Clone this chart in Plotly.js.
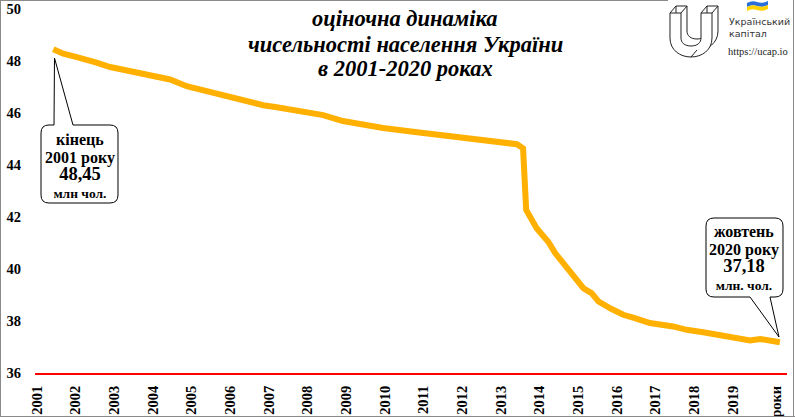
<!DOCTYPE html>
<html><head><meta charset="utf-8">
<script src="https://cdn.plot.ly/plotly-3.0.1.min.js"></script>
<style>html,body{margin:0;padding:0;background:#fff;} #chart{width:795px;height:417px;}</style>
</head><body><div id="chart"></div>
<script>
// ---- data ----
const years = [2001.92, 2002.18, 2002.53, 2002.74, 2003.04, 2003.39, 2003.65, 2003.91, 2004.34, 2004.60,
  2004.94, 2005.37, 2005.63, 2005.97, 2006.32, 2006.66, 2007.01, 2007.35, 2007.70, 2008.22,
  2008.90, 2009.41, 2010.45, 2011.33, 2012.36, 2013.21, 2013.91, 2014.07, 2014.15, 2014.42,
  2014.72, 2014.90, 2015.28, 2015.63, 2015.84, 2016.02, 2016.36, 2016.66, 2016.96, 2017.35,
  2017.95, 2018.30, 2018.73, 2019.16, 2019.59, 2019.94, 2020.20, 2020.41, 2020.71];
const population = [48.45, 48.28, 48.15, 48.08, 47.94, 47.77, 47.69, 47.62, 47.46, 47.41,
  47.29, 47.03, 46.93, 46.83, 46.71, 46.57, 46.44, 46.30, 46.22, 46.07,
  45.92, 45.69, 45.42, 45.26, 45.07, 44.92, 44.80, 44.64, 42.27, 41.57,
  41.05, 40.61, 39.90, 39.26, 39.07, 38.75, 38.46, 38.24, 38.11, 37.92,
  37.79, 37.66, 37.57, 37.44, 37.34, 37.25, 37.31, 37.28, 37.18];
const tickYears = [2001,2002,2003,2004,2005,2006,2007,2008,2009,2010,2011,2012,2013,2014,2015,2016,2017,2018,2019];
const axisUnitLabel = 'роки';
const yTicks = [36,38,40,42,44,46,48,50];
const titleLines = ['оціночна динаміка','чисельності населення України','в 2001-2020 роках'];
const startNote = ['кінець','2001 року','48,45','млн чол.'];
const endNote = ['жовтень','2020 року','37,18','млн. чол.'];
const logoLines = ['Український','капітал','https://ucap.io'];

// ---- layout helpers ----
const W=795, H=417, M={l:35,r:8,t:9,b:44};
const PW=W-M.l-M.r, PH=H-M.t-M.b;
const PX=p=>(p-M.l)/PW, PY=p=>(H-M.b-p)/PH;
function path(cmds, close){
  return cmds.map(c=>{let s=c[0];const n=c.slice(1);for(let i=0;i<n.length;i+=2){s+=(i?' ':'')+PX(n[i]).toFixed(5)+','+PY(n[i+1]).toFixed(5);}return s;}).join(' ')+(close===false?'':' Z');
}
function pshape(cmds, fill, lc, lw, close){
  return {type:'path', xref:'paper', yref:'paper', path:path(cmds, close), fillcolor:fill||'rgba(0,0,0,0)', line:{color:lc||'rgba(0,0,0,0)', width:lw===undefined?1:lw}};
}
function lineShape(x0,y0,x1,y1,c,w){
  return {type:'line', xref:'paper', yref:'paper', x0:PX(x0), y0:PY(y0), x1:PX(x1), y1:PY(y1), line:{color:c, width:w}};
}
function ann(text, px, py, size, o){
  o=o||{};
  return {xref:'paper', yref:'paper', x:PX(px), y:PY(py), text:text, showarrow:false,
    xanchor:o.xa||'center', yanchor:'middle', borderpad:0,
    font:{family:o.family||'Liberation Serif', size:size, color:o.color||'#000'}};
}

const shapes = [];
// outer border
const bc='#8a8a8a';
shapes.push(lineShape(0,0.5,668,0.5,bc,1));
shapes.push(lineShape(0.5,0,0.5,417,bc,1));
shapes.push(lineShape(0,416.5,795,416.5,bc,1));
shapes.push(lineShape(793.5,0,793.5,417,bc,1));
// logo U (back then front)
shapes.push(pshape([['M',676,6],['L',676,31],['C',676,43,686,50,697,50],['C',708,50,718,43,718,31],['L',718,6],['L',707,6],['L',707,31],['C',707,36,703,39,697,39],['C',691,39,687,36,687,31],['L',687,6]],'#fff','#222',1));
shapes.push(pshape([['M',670,13],['L',670,38],['C',670,50,680,57,691,57],['C',702,57,712,50,712,38],['L',712,13],['L',701,13],['L',701,38],['C',701,43,697,46,691,46],['C',685,46,681,43,681,38],['L',681,13]],'#fff','#222',1));
shapes.push(lineShape(670,13,676,6,'#222',1));
shapes.push(lineShape(681,13,687,6,'#222',1));
shapes.push(lineShape(701,13,707,6,'#222',1));
shapes.push(lineShape(712,13,718,6,'#222',1));
shapes.push(lineShape(691,57,697,50,'#222',1));
// flag
shapes.push(pshape([['M',747,3],['Q',752,0,757,2],['Q',762,4,768,1],['L',768,5],['Q',762,8,757,6],['Q',752,4,747,7]],'#2a6fd8',null,0));
shapes.push(pshape([['M',747,7],['Q',752,4,757,6],['Q',762,8,768,5],['L',768,9],['Q',762,12,757,10],['Q',752,8,747,11]],'#ffd200',null,0));
// callout bubbles
shapes.push(pshape([['M',49,125],['L',54,125],['L',54.5,58],['L',73,125],['L',110,125],['Q',118,125,118,133],['L',118,195],['Q',118,203,110,203],['L',49,203],['Q',41,203,41,195],['L',41,133],['Q',41,125,49,125]],'#fff','#000',1));
shapes.push(pshape([['M',714,218],['L',775,218],['Q',783,218,783,226],['L',783,289],['Q',783,297,775,297],['L',770,297],['L',779,337],['L',750,297],['L',714,297],['Q',706,297,706,289],['L',706,226],['Q',706,218,714,218]],'#fff','#000',1));

const annotations = [];
const titleY=[18,44,68];
titleLines.forEach((t,i)=>annotations.push(ann('<b><i>'+t+'</i></b>',405,titleY[i],22.5)));
const noteSz=[16,16,18.5,13.5];
function noteText(lines){
  return '<b>'+lines.map((t,i)=>'<span style="font-size:'+noteSz[i]+'px">'+t+'</span>').join('<br>')+'</b>';
}
annotations.push(ann(noteText(startNote),80,166,13.5));
annotations.push(ann(noteText(endNote),744,258,13.5));
annotations.push(ann(logoLines[0],728,21,9.5,{xa:'left',family:'DejaVu Sans',color:'#333'}));
annotations.push(ann(logoLines[1],728,34,9.5,{xa:'left',family:'DejaVu Sans',color:'#333'}));
annotations.push(ann(logoLines[2],727,51,10.5,{xa:'left',family:'Liberation Serif',color:'#222'}));

const tickvals = tickYears.map(y=>y+0.5).concat([2020.61]);
const ticktext = tickYears.map(String).concat([axisUnitLabel]);

const trace = {x:years, y:population, type:'scatter', mode:'lines',
  line:{color:'#FFB000', width:6}, hoverinfo:'skip'};

const layout = {
  width:W, height:H, margin:M, paper_bgcolor:'#fff', plot_bgcolor:'#fff', showlegend:false,
  font:{family:'Liberation Serif', color:'#000'},
  xaxis:{range:[2001.448,2020.895], tickvals:tickvals, ticktext:ticktext, tickangle:-90,
    showgrid:false, zeroline:false, showline:true, linecolor:'#ff0000', linewidth:2,
    ticks:'outside', ticklen:5, tickcolor:'rgba(0,0,0,0)',
    tickfont:{family:'Liberation Serif', size:14.5, weight:700, color:'#000'}},
  yaxis:{range:[36,50], tickvals:yTicks, ticktext:yTicks.map(String), showgrid:false, zeroline:false,
    showline:false, ticks:'outside', ticklen:10, tickcolor:'rgba(0,0,0,0)',
    tickfont:{family:'Liberation Serif', size:14.5, weight:700, color:'#000'}},
  shapes:shapes, annotations:annotations
};
Plotly.newPlot('chart',[trace],layout,{displayModeBar:false, staticPlot:true});
</script></body></html>
